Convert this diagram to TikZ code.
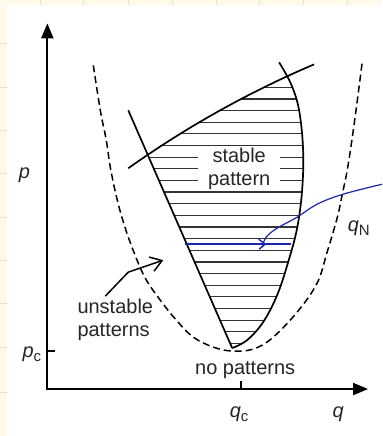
\documentclass[tikz,border=0pt]{standalone}
\usepackage{fontspec}
\setmainfont{Liberation Sans}
\usetikzlibrary{arrows.meta}
\definecolor{cream}{RGB}{253,250,235}
\definecolor{gridc}{RGB}{232,226,200}
\definecolor{pen}{RGB}{25,40,170}
\newcommand{\subtxt}[1]{\raisebox{-4.5pt}{\fontsize{15}{15}\selectfont #1}}
\begin{document}
\begin{tikzpicture}[x=1pt,y=-1pt,
  lbl/.style={font=\fontsize{20}{23}\selectfont, inner sep=0, text=black!85},
  axisline/.style={line width=2pt, line join=miter,
    {Triangle[length=15pt,width=12pt]}-{Triangle[length=15pt,width=12pt]}},
  bound/.style={line width=1.7pt},
  hatchline/.style={line width=1.2pt, draw=black!80},
  dashline/.style={line width=1.5pt, dash pattern=on 7pt off 4pt},
  tick/.style={line width=1.5pt}]
% background
\fill[cream] (0,0) rectangle (382,436);
\foreach \x in {40,83,128,172,216,259,303,347} \draw[gridc, line width=0.8pt] (\x,0) -- (\x,5);
\foreach \y in {43,87,130,173,217,260,303,347,392} \draw[gridc, line width=0.8pt] (0,\y) -- (7,\y);
\fill[white] (7,5) rectangle (382,436);
\useasboundingbox (0,0) rectangle (382,436);

% axes
\coordinate (Ytip) at (47,23);
\coordinate (O) at (47,389);
\coordinate (Xtip) at (368,389);
\draw[axisline] (Ytip) -- (O) -- (Xtip);
\coordinate (pct) at (47,351);
\coordinate (pcte) at (55,351);
\draw[tick] (pct) -- (pcte);
\coordinate (qct) at (241,389);
\coordinate (qcte) at (241,381);
\draw[tick] (qct) -- (qcte);

% hatching
\begin{scope}
\clip (104,55) -- (236,357) -- (400,357) -- (400,0) -- (104,0) -- cycle;
\clip (128,168) .. controls (186.3,126.7) and (248.3,92) .. (314,64) -- (400,64) -- (400,400) -- (0,400) -- (0,168) -- cycle;
\clip (279,0) -- plot[smooth, tension=0.6] coordinates {(279,62) (291,84) (299,110) (303,150) (302,190) (297,228) (288,262) (277,295) (263,322) (247,340) (232,348)} -- (0,348) -- (0,0) -- cycle;
\foreach \k in {0,...,22} \draw[hatchline] (100,{87+11.65*\k}) -- (320,{87+11.65*\k});
\end{scope}

% stable region boundaries
\draw[bound] (128,110) -- (232,348);
\draw[bound] (128,168) .. controls (186.3,126.7) and (248.3,92) .. (314,64);
\draw[bound] plot[smooth, tension=0.6] coordinates {(279,62) (291,84) (299,110) (303,150) (302,190) (297,228) (288,262) (277,295) (263,322) (247,340) (232,348)};

% dashed neutral curve
\draw[dashline] plot[smooth, tension=0.6] coordinates {(93,65) (100,110) (106,140) (110,167) (117,200) (125,228) (134,253) (145,278) (160,300) (176,320) (193,337) (213,347) (232,351) (253,349) (272,338) (297,312) (317,283) (327,252) (337,218) (342,195) (348,165) (355,117) (362,63)};

% labels
\node[lbl, fill=white, align=center, minimum width=82pt] (stable) at (239,168.3) {stable\\pattern};
\node[lbl, anchor=base] (p) at (24,178) {\textit{p}};
\node[lbl, anchor=base east] (pc) at (41,357) {\textit{p}\subtxt{c}};
\node[lbl, anchor=base] (qc) at (239,417) {\textit{q}\subtxt{c}};
\node[lbl, anchor=base] (q) at (338,417) {\textit{q}};
\node[lbl, anchor=base west] (qN) at (347.5,231) {\textit{q}\subtxt{N}};
\node[lbl, anchor=base] (none) at (245,374) {no patterns};
\node[lbl, anchor=base west] (un1) at (77,313) {unstable};
\node[lbl, anchor=base west] (un2) at (77,336) {patterns};

% arrow to unstable region
\coordinate (ua) at (105,296);
\coordinate (ub) at (128,272);
\coordinate (uc) at (163,260);
\draw[line width=1.5pt, -{Straight Barb[length=11pt,width=15pt]}] (ua) -- (ub) -- (uc);

% blue annotation
\coordinate (bl) at (185,244);
\coordinate (br) at (291,244);
\draw[pen, line width=2.2pt] (bl) -- (br);
\coordinate (ch1) at (258.5,239);
\coordinate (ch2) at (265,244);
\coordinate (ch3) at (259,249);
\draw[pen, line width=1.4pt] (ch1) -- (ch2) -- (ch3);
\draw[pen, line width=1.2pt] plot[smooth, tension=0.6] coordinates {(382,184) (343,194) (317,204) (297,217) (277,228) (266,237) (262,247)};
\end{tikzpicture}
\end{document}
